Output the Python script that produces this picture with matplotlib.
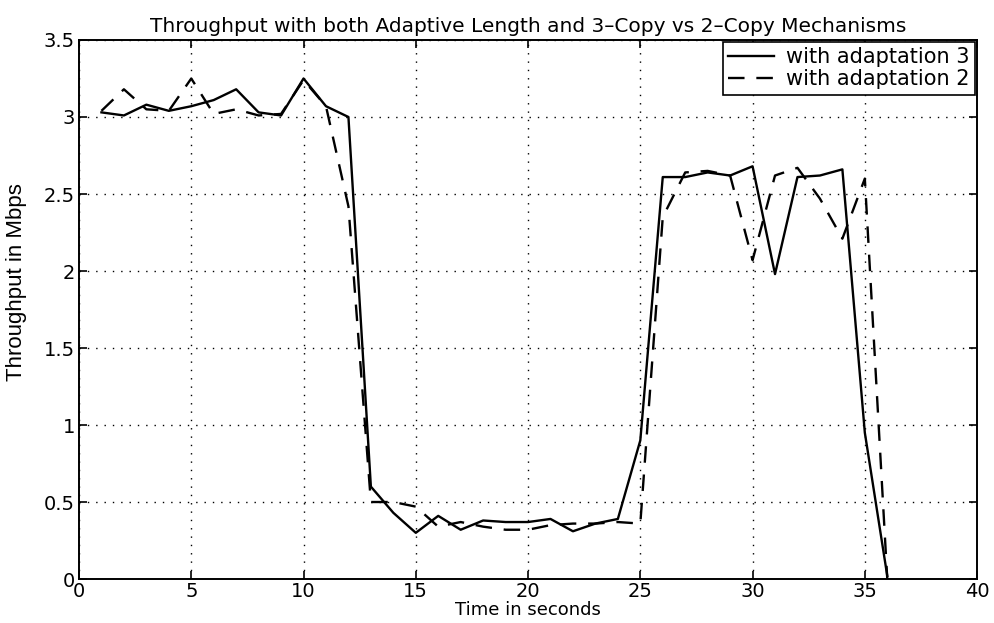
import numpy as np
import matplotlib
matplotlib.use("Agg")
import matplotlib.pyplot as plt
from matplotlib import font_manager
from matplotlib.ticker import FuncFormatter

plt.rcParams['font.family'] = ['DejaVu Sans']

#### Data (one sample per second)
time_s = list(range(1, 37))
adapt3 = [3.03, 3.01, 3.08, 3.04, 3.07, 3.11, 3.18, 3.03, 3.01, 3.25,
          3.07, 3.00, 0.60, 0.43, 0.30, 0.41, 0.32, 0.38, 0.37, 0.37,
          0.39, 0.31, 0.36, 0.39, 0.90, 2.61, 2.61, 2.64, 2.62, 2.68,
          1.98, 2.61, 2.62, 2.66, 0.95, 0.02]
adapt2 = [3.04, 3.18, 3.05, 3.04, 3.25, 3.02, 3.05, 3.01, 3.02, 3.24,
          3.07, 2.42, 0.50, 0.50, 0.47, 0.34, 0.37, 0.34, 0.32, 0.32,
          0.35, 0.36, 0.36, 0.37, 0.36, 2.35, 2.64, 2.65, 2.62, 2.07,
          2.62, 2.67, 2.47, 2.21, 2.60, 0.00]
series_labels = ['with adaptation 3', 'with adaptation 2']
x_ticks = np.arange(0, 41, 5)
y_ticks = np.arange(0, 3.51, 0.5)

# narrow face for the y label if there is one
try:
	font_manager.findfont('Liberation Sans Narrow', fallback_to_default=False)
	ylab_font, ylab_size = 'Liberation Sans Narrow', 19
except Exception:
	ylab_font, ylab_size = 'Liberation Sans', 16

fig = plt.figure(figsize=(9.95, 6.23), dpi=100)
ax = fig.add_axes([0.0794, 0.0706, 0.9026, 0.8652])

ax.plot(time_s, adapt3, color='black', linestyle='-', linewidth=1.7, label=series_labels[0])
ax.plot(time_s, adapt2, color='black', linestyle=(0, (7, 5)), linewidth=1.7, label=series_labels[1])

ax.set_xlim(0, 40)
ax.set_ylim(0, 3.5)
ax.set_xticks(x_ticks)
ax.set_yticks(y_ticks)
ax.yaxis.set_major_formatter(FuncFormatter(lambda v, p: ('%g' % v)))
ax.tick_params(direction='in', top=True, right=True, length=6, width=1.2,
               labelsize=14, pad=3)
ax.tick_params(axis='x', pad=2)
for s in ax.spines.values():
	s.set_linewidth(1.4)
ax.grid(True, color='black', linestyle=(0, (1, 5)), linewidth=1.0)

ax.set_title('Throughput with both Adaptive Length and 3\u2013Copy vs 2\u2013Copy Mechanisms',
             fontsize=14.5, pad=6)
ax.set_xlabel('Time in seconds', fontsize=13, labelpad=0)
ax.set_ylabel('Throughput in Mbps', fontsize=ylab_size, family=ylab_font)
ax.yaxis.set_label_coords(-0.058, 0.55)

leg = ax.legend(loc='upper right', fontsize=15, frameon=True, fancybox=False,
                borderaxespad=0.1, handlelength=2.2, borderpad=0.25, labelspacing=0.1,
                handletextpad=0.6)
leg.get_frame().set_edgecolor('black')
leg.get_frame().set_linewidth(1.2)
leg.get_frame().set_alpha(1)

fig.savefig('out.png', dpi=100)
